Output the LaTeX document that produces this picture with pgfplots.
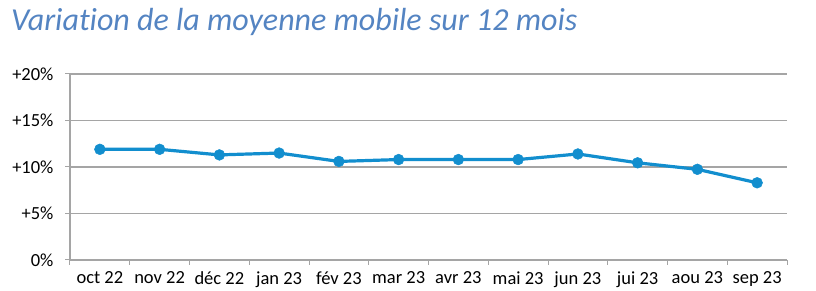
\documentclass[border=0pt]{standalone}
\usepackage{pgfplots}
\pgfplotsset{compat=1.18}
\usepackage{fontspec}
\setmainfont{Carlito}[Ligatures=NoCommon]
\definecolor{titleblue}{RGB}{84,132,194}
\definecolor{lineblue}{RGB}{18,142,206}
\definecolor{gridgray}{RGB}{165,165,165}
\begin{document}
\begin{tikzpicture}[x=1pt,y=1pt]
\useasboundingbox (-70,-31) rectangle (746,260);
\node[anchor=west,text=titleblue,font=\fontsize{32}{36}\selectfont\itshape,inner sep=0pt] at (-59,238) {Variation de la moyenne mobile sur 12 mois};
\begin{axis}[
  at={(0,0)}, anchor=south west,
  scale only axis, width=717pt, height=186pt,
  xmin=-0.5, xmax=11.5, ymin=0, ymax=20,
  xtick={0,...,11},
  xticklabels={oct 22,nov 22,déc 22,jan 23,fév 23,mar 23,avr 23,mai 23,jun 23,jui 23,aou 23,sep 23},
  minor xtick={-0.5,0.5,...,11.5},
  major x tick style={draw=none},
  ytick={0,5,10,15,20},
  yticklabels={0\%,+5\%,+10\%,+15\%,+20\%},
  tick align=outside,
  minor tick length=5pt, major tick length=5pt,
  tick style={gridgray,line width=1pt},
  ymajorgrids, grid style={gridgray,line width=1.3pt},
  axis x line*=bottom, axis y line*=left,
  axis line style={gridgray,line width=1.3pt},
  x axis line style={-}, y axis line style={-},
  ticklabel style={font=\fontsize{18.5}{22}\selectfont},
  xticklabel style={yshift=-3pt},
  yticklabel style={xshift=-8pt},
  /pgf/number format/assume math mode=true,
]
\addplot[lineblue, line width=3.2pt, mark=*, mark size=5.4pt, mark options={solid,fill=lineblue,draw=lineblue,line width=0.5pt}] coordinates {
(0,11.9) (1,11.9) (2,11.3) (3,11.5) (4,10.6) (5,10.8) (6,10.8) (7,10.8) (8,11.4) (9,10.45) (10,9.75) (11,8.3)
};
\end{axis}
\end{tikzpicture}
\end{document}
